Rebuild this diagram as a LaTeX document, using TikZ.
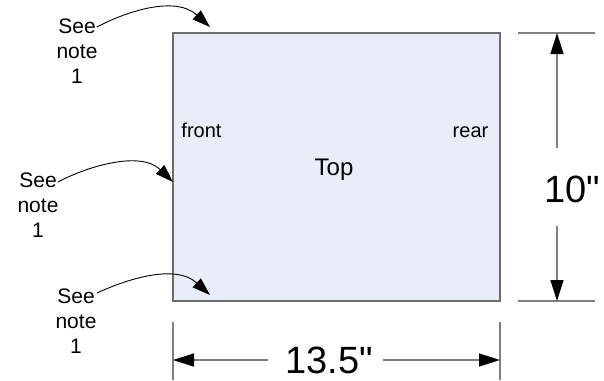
\documentclass[tikz,border=0pt]{standalone}
\usepackage{fontspec}
\setmainfont{Liberation Sans}[Ligatures=TeXOff]
\usetikzlibrary{arrows.meta}
\definecolor{boxfill}{RGB}{232,238,248}
\definecolor{boxline}{RGB}{110,110,110}
\definecolor{dimline}{RGB}{128,128,128}
\tikzset{
  panel/.style={draw=boxline, line width=1.3pt, fill=boxfill, rectangle, inner sep=0pt},
  note/.style={align=center, inner sep=0pt, font=\fontsize{21}{25}\selectfont},
  smalltext/.style={inner sep=0pt, anchor=base, font=\fontsize{20}{24}\selectfont},
  bigtext/.style={inner sep=0pt, anchor=base, font=\fontsize{38}{44}\selectfont},
  midtext/.style={inner sep=0pt, anchor=base, font=\fontsize{24}{28}\selectfont},
  pointer/.style={draw=black, line width=0.9pt, -{Triangle[length=18pt, width=12pt]}},
  dimarrow/.style={draw=dimline, line width=1.4pt, -{Triangle[length=21pt, width=13pt, fill=black, color=black]}},
  extline/.style={draw=dimline, line width=1.4pt}
}
\begin{document}
\begin{tikzpicture}[x=1pt, y=-1pt]
\useasboundingbox (0,0) rectangle (604,380);
% main panel
\node[panel, minimum width=327pt, minimum height=268pt] (top) at (336.5,167) {};
\node[smalltext] (front) at (201.5,137) {front};
\node[smalltext] (rear) at (470.5,137) {rear};
\node[midtext] (toplabel) at (334,175) {Top};
% notes
\node[note] (n1) at (77,51.5) {See\\note\\1};
\node[note] (n2) at (38,205) {See\\note\\1};
\node[note] (n3) at (76,321) {See\\note\\1};
\coordinate (s1) at (97,27);
\coordinate (t1) at (210,27);
\coordinate (s2) at (58,182);
\coordinate (t2) at (173,182);
\coordinate (s3) at (97,293);
\coordinate (t3) at (210,295);
\draw[pointer] (s1) .. controls (125,12) and (175,-5) .. (t1);
\draw[pointer] (s2) .. controls (86,167) and (140,150) .. (t2);
\draw[pointer] (s3) .. controls (125,280) and (175,263) .. (t3);
% vertical dimension
\coordinate (ve1a) at (518,33);
\coordinate (ve1b) at (595,33);
\coordinate (ve2a) at (518,301);
\coordinate (ve2b) at (595,301);
\draw[extline] (ve1a) -- (ve1b);
\draw[extline] (ve2a) -- (ve2b);
\coordinate (vtop) at (557,33);
\coordinate (vbot) at (557,301);
\coordinate (vg1) at (557,148);
\coordinate (vg2) at (557,226);
\draw[dimarrow] (vg1) -- (vtop);
\draw[dimarrow] (vg2) -- (vbot);
\node[bigtext] (h) at (572,202) {10"};
% horizontal dimension
\coordinate (he1a) at (173,322);
\coordinate (he1b) at (173,380);
\coordinate (he2a) at (500,322);
\coordinate (he2b) at (500,380);
\draw[extline] (he1a) -- (he1b);
\draw[extline] (he2a) -- (he2b);
\coordinate (hl) at (173,360);
\coordinate (hr) at (500,360);
\coordinate (hg1) at (268,360);
\coordinate (hg2) at (383,360);
\draw[dimarrow] (hg1) -- (hl);
\draw[dimarrow] (hg2) -- (hr);
\node[bigtext] (w) at (329,373) {13.5"};
\end{tikzpicture}
\end{document}
